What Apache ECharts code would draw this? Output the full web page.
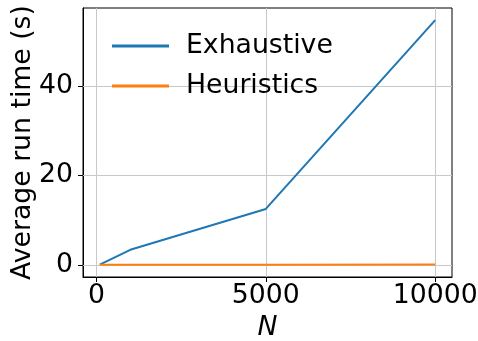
<!DOCTYPE html>
<html>
<head>
<meta charset="utf-8">
<script src="https://cdn.jsdelivr.net/npm/echarts@6/dist/echarts.min.js"></script>
<style>
  html, body { margin: 0; padding: 0; background: #fff; }
  #chart { width: 478px; height: 341px; }
</style>
</head>
<body>
<div id="chart"></div>
<script>
// data
var nValues = [100, 1000, 5000, 10000];
var exhaustive = [0.03, 3.35, 12.5, 54.8];
var heuristics = [0.001, 0.005, 0.02, 0.04];
var xTicks = [0, 5000, 10000];
var yTicks = [0, 20, 40];

var font = 'DejaVu Sans';
var fs = 26.7;

function pairs(xs, ys) {
  return xs.map(function (x, i) { return [x, ys[i]]; });
}

var myChart = echarts.init(document.getElementById('chart'));
var option = {
  animation: false,
  backgroundColor: '#fff',
  grid: {
    left: 83, right: 26, top: 8, bottom: 64,
    outerBoundsMode: 'none',
    containLabel: false,
    show: true, borderColor: '#000', borderWidth: 1
  },
  legend: {
    orient: 'vertical',
    left: 107, top: 26,
    itemWidth: 57, itemHeight: 3,
    itemGap: 10,
    icon: 'rect',
    textStyle: { fontFamily: font, fontSize: fs, color: '#000', lineHeight: 30, padding: [0, 0, 0, 12] },
    data: ['Exhaustive', 'Heuristics']
  },
  xAxis: {
    type: 'value',
    min: -395, max: 10495,
    name: 'N',
    nameLocation: 'middle',
    nameGap: 38,
    nameMoveOverlap: false,
    nameTextStyle: { fontFamily: font, fontSize: fs, fontStyle: 'italic', color: '#000' },
    axisLine: { show: true, onZero: false, lineStyle: { color: '#000', width: 1 } },
    axisTick: { show: true, length: 5, customValues: xTicks, lineStyle: { color: '#000' } },
    axisLabel: {
      margin: 6, customValues: xTicks, fontFamily: font, fontSize: fs, color: '#000',
      formatter: function (v) { return String(v); }
    },
    splitLine: { show: false }
  },
  yAxis: {
    type: 'value',
    min: -2.74, max: 57.5,
    name: 'Average run time (s)',
    nameLocation: 'middle',
    nameRotate: 90,
    nameGap: 46,
    nameMoveOverlap: false,
    nameTextStyle: { fontFamily: font, fontSize: fs, color: '#000' },
    axisLine: { show: true, onZero: false, lineStyle: { color: '#000', width: 1 } },
    axisTick: { show: true, length: 5, customValues: yTicks, lineStyle: { color: '#000' } },
    axisLabel: {
      margin: 10, customValues: yTicks, fontFamily: font, fontSize: fs, color: '#000',
      formatter: function (v) { return String(v); }
    },
    splitLine: { show: false }
  },
  series: [
    {
      name: 'Exhaustive',
      type: 'line',
      symbol: 'none',
      color: '#1f77b4',
      lineStyle: { width: 2, color: '#1f77b4' },
      data: pairs(nValues, exhaustive),
      markLine: {
        silent: true,
        symbol: 'none',
        label: { show: false },
        lineStyle: { color: '#c8c8c8', width: 1, type: 'solid' },
        data: xTicks.map(function (v) { return { xAxis: v }; })
          .concat(yTicks.map(function (v) { return { yAxis: v }; })),
        z: 1
      },
      z: 3
    },
    {
      name: 'Heuristics',
      type: 'line',
      symbol: 'none',
      color: '#ff7f0e',
      lineStyle: { width: 2, color: '#ff7f0e' },
      data: pairs(nValues, heuristics),
      z: 4
    }
  ]
};
myChart.setOption(option);
</script>
</body>
</html>
